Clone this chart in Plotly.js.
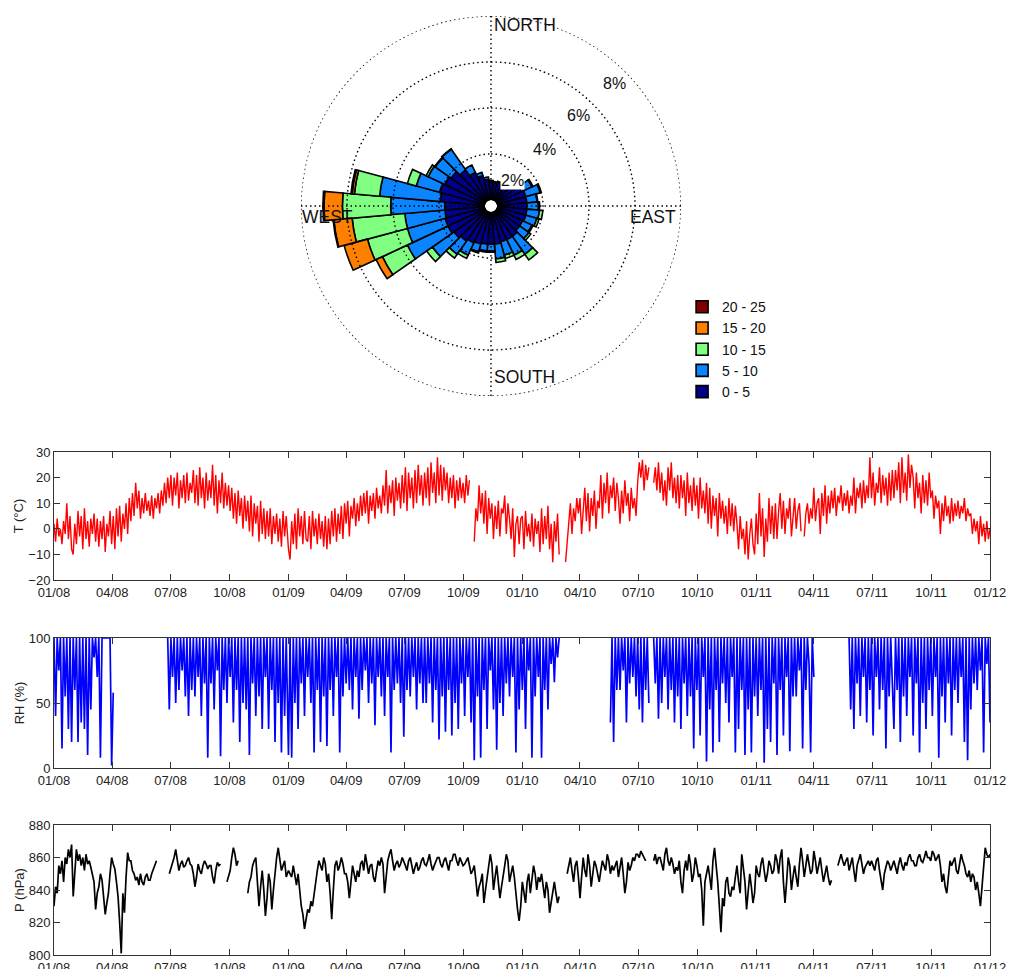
<!DOCTYPE html>
<html><head><meta charset="utf-8">
<script src="https://cdn.plot.ly/plotly-3.0.1.min.js"></script>
<style>html,body{margin:0;padding:0;background:#fff}#chart{width:1009px;height:969px}</style>
</head><body><div id="chart"></div>
<script>
// ---------- Wind rose data (% of time, per 10 degree sector, compass degrees) ----------
const DIRECTIONS = [0,10,20,30,40,50,60,70,80,90,100,110,120,130,140,150,160,170,180,190,200,210,220,230,240,250,260,270,280,290,300,310,320,330,340,350];
const SPEED_CLASSES = ['0 - 5','5 - 10','10 - 15','15 - 20','20 - 25'];
const SPEED_COLORS = ['#00008c','#0a84ff','#80ff80','#ff8000','#800000'];
const FREQ_0_5   = [0.8,0.75,0.8,0.9,1.0,1.1,1.2,1.3,1.3,1.3,1.3,1.3,1.25,1.25,1.35,1.35,1.35,1.4,1.4,1.4,1.45,1.5,1.6,1.7,1.8,1.8,1.75,1.75,1.95,2.05,1.95,1.85,1.65,1.35,1.1,0.9];
const FREQ_5_10  = [0.05,0.05,0.05,0.1,0.2,0.3,0.5,0.65,0.45,0.5,0.55,0.5,0.45,0.5,0.95,0.75,0.6,0.65,0.3,0.3,0.35,0.6,0.7,1.15,1.95,1.7,1.75,2.35,2.65,1.05,0.8,0.85,1.1,0.35,0.15,0.1];
const FREQ_10_15 = [0,0,0,0,0,0,0.05,0.05,0.03,0.05,0.15,0.1,0.05,0.1,0.3,0.2,0.15,0.15,0.05,0.05,0.05,0.15,0.2,0.3,1.2,1.8,2.3,2.1,1.1,0.4,0.1,0.03,0.02,0,0,0];
const FREQ_15_20 = [0,0,0,0,0,0,0,0,0,0,0,0,0,0,0,0,0,0,0,0,0,0,0,0,0.3,1.05,0.8,0.8,0.1,0,0,0,0,0,0,0];
const FREQ_20_25 = [0,0,0,0,0,0,0,0,0,0,0,0,0,0,0,0,0,0,0,0,0,0,0,0,0,0,0.03,0.05,0.05,0,0,0,0,0,0,0];
const RING_LEVELS = [2,4,6,8];
const RING_LABELS = ['2%','4%','6%','8%'];
const COMPASS_LABELS = ['NORTH','EAST','SOUTH','WEST'];

// ---------- Time series: one reading every 2.5 days from 1 January of each year ----------
const YEARS = [2008, 2009, 2010, 2011];
const STEP_DAYS = 2.5;
// Temperature (°C)
const T_2008 = [
 2,-5,4,-3,0,-6,3,-2,10,-4,5,-8,
 -10,2,-6,7,-3,5,-8,8,-4,3,-7,4,
 -2,6,-5,4,-7,3,-4,5,-9,2,-3,7,
 -6,5,-8,8,-3,9,-5,6,0,10,-2,12,
 3,14,5,18,8,15,4,12,6,14,7,11,
 5,13,4,12,8,14,6,15,9,18,10,20,
 12,21,9,20,13,22,8,19,12,21,10,22,11,18,
 14,23,10,21,9,24,12,20,8,22,11,19,
 12,25,9,21,6,19,10,22,8,18,9,17,
 7,16,4,14,2,15,5,12,0,13,3,11,
 -1,13,-3,10,2,9,-5,11,-2,8,-4,7,
 -3,8,-6,5,-2,6,-5,4,-7,7,-3,5];
const T_2009 = [
 -8,-12,3,-6,6,-8,8,-3,5,-6,7,-4,
 -5,5,-8,7,-3,4,-6,6,-4,3,-7,5,
 -8,4,-6,7,-3,8,-5,6,-2,9,-4,10,
 2,11,-3,9,4,12,1,10,3,13,5,14,
 6,15,2,13,7,14,4,16,8,13,6,17,
 9,23,6,17,10,19,5,20,11,18,8,21,
 10,24,7,22,12,20,8,23,10,25,13,21,9,22,
 12,24,9,26,14,22,10,28,13,25,11,24,
 15,22,10,20,12,21,8,19,11,20,12,18,
 10,21,13,19,null,null,-5,8,3,17,6,14,
 2,15,-2,12,4,10,-4,9,0,11,-3,8,
 6,13,-2,10,4,-4,8,-11,2,5,-6,4];
const T_2010 = [
 5,-8,7,-3,2,-5,6,-7,4,-2,3,-9,
 8,-6,5,-4,9,-8,2,-13,3,-5,6,-10,
 null,null,null,-13,-5,5,10,-2,8,3,12,6,
 12,-2,9,16,3,14,-1,12,5,15,0,11,
 8,21,4,18,10,22,6,17,12,20,7,18,
 12,2,15,6,19,9,14,3,16,8,12,5,
 18,26,20,27,15,25,19,24,null,null,18,24,15,26,
 14,22,11,19,9,24,15,26,12,20,10,21,
 8,21,12,19,5,22,10,17,7,20,9,17,
 4,20,8,15,6,18,2,16,0,13,5,12,
 -3,14,4,11,2,9,-2,12,1,10,-1,9,
 2,-8,5,-4,0,-10,3,-12,-2,4,-6,-10];
const T_2011 = [
 6,-6,14,-3,8,-11,4,-5,12,-2,9,-4,
 10,-4,7,14,0,11,-2,8,4,12,-3,6,
 12,0,7,10,-1,null,-3,6,10,2,8,4,
 16,3,10,12,-2,14,5,17,2,13,6,15,
 8,16,5,13,10,17,7,14,9,15,6,13,
 9,20,6,16,12,18,8,19,10,17,12,28,
 12,22,9,18,14,24,10,21,13,20,9,22,11,23,
 12,23,15,26,10,28,14,22,11,29,16,25,
 20,8,22,12,18,6,21,10,19,9,22,12,
 15,4,13,8,11,-2,10,3,13,5,9,2,
 12,3,10,5,11,4,9,6,12,3,8,5,
 6,-2,4,-1,3,-6,5,-3,2,-5,3,-4,
 0];
// Relative humidity (%)
const RH_2008 = [
 100,40,100,75,100,15,100,55,100,30,100,20,
 100,60,100,20,100,35,100,30,100,10,100,45,
 100,85,100,70,100,8,100,100,100,100,100,100,
 2,58,null,null,null,null,null,null,null,null,null,null,
 null,null,null,null,null,null,null,null,null,null,null,null,
 null,null,null,null,null,null,null,null,null,null,null,100,
 45,100,70,100,50,100,60,100,75,100,55,100,40,100,
 60,100,55,100,70,100,40,100,65,100,8,100,
 65,100,45,100,75,100,9,100,60,100,50,100,
 70,100,35,100,60,100,20,100,50,100,45,100,
 10,100,65,100,40,100,55,100,30,100,70,100,
 30,100,60,100,20,100,50,100,12,100,40,100];
const RH_2009 = [
 10,100,8,100,50,100,30,100,65,100,40,100,
 70,100,50,100,12,100,60,100,20,100,55,100,
 17,100,60,100,40,100,70,100,12,100,55,100,
 65,100,60,100,45,100,70,100,38,100,60,100,
 75,100,50,100,65,100,33,100,70,100,55,100,
 40,100,70,100,12,100,60,100,65,100,50,100,
 24,100,60,100,55,100,70,100,45,100,65,100,50,100,
 50,100,65,100,35,100,60,100,22,100,55,100,
 28,100,60,100,25,100,50,100,30,100,65,100,
 40,100,70,100,35,100,6,100,55,100,8,100,
 60,100,30,100,75,100,45,100,14,100,50,100,
 40,100,65,100,55,100,70,100,12,100,45,100];
const RH_2010 = [
 60,100,30,100,75,100,8,100,55,100,70,100,
 8,100,60,100,45,100,80,100,66,100,85,100,
 null,null,null,null,null,null,null,null,null,null,null,null,
 null,null,null,null,null,null,null,null,null,null,null,null,
 null,null,null,null,null,null,null,35,100,20,100,60,
 100,60,100,75,100,35,100,65,100,70,100,55,
 100,45,100,35,100,60,100,50,null,null,100,65,100,38,
 100,50,100,70,100,45,100,60,100,35,100,55,
 100,30,100,65,100,40,100,55,100,15,100,60,
 100,25,100,70,100,5,100,45,100,12,100,60,
 100,20,100,65,100,50,100,35,100,70,100,12,
 100,30,100,60,100,10,100,45,100,12,100,55];
const RH_2011 = [
 100,40,100,60,100,4,100,30,100,20,100,65,
 100,10,100,60,100,25,100,70,100,13,100,55,
 100,55,100,75,100,15,100,60,100,80,12,100,
 70,null,null,null,null,null,null,null,null,null,null,null,
 null,null,null,null,null,null,null,null,null,null,100,45,
 100,30,100,65,100,40,100,70,100,35,100,60,
 100,25,100,70,100,45,100,60,100,15,100,55,100,65,
 30,100,60,100,20,100,55,100,40,100,70,100,
 25,100,65,100,12,100,50,100,30,100,60,100,
 40,100,70,100,8,100,55,100,35,100,65,100,
 25,100,60,100,50,100,70,100,20,100,6,100,
 45,100,65,100,60,100,75,100,12,100,80,100,
 35];
// Pressure (hPa)
const P_2008 = [
 830,842,838,855,850,858,845,860,856,865,860,868,
 836,850,865,858,862,855,860,852,862,856,858,854,
 850,845,828,838,842,850,846,835,825,832,838,850,
 860,856,853,845,836,820,801,838,826,848,863,858,
 858,852,850,846,848,843,850,845,843,848,850,846,
 846,850,853,855,858,null,null,null,null,null,null,null,
 850,853,856,860,865,858,852,856,858,854,855,858,860,856,
 855,850,842,848,856,852,850,855,858,856,853,855,
 855,848,844,852,857,855,856,null,null,null,845,848,
 852,860,866,862,855,858,null,null,null,null,null,838,
 845,848,855,858,860,845,830,842,852,840,824,835,
 850,845,828,840,852,860,866,858,852,855,858,848];
const P_2009 = [
 852,850,848,855,850,843,850,838,830,825,816,822,
 828,826,833,830,838,845,852,858,855,852,860,856,
 845,850,838,822,840,855,858,852,855,860,856,850,
 850,845,835,848,855,850,845,852,848,856,858,852,
 862,856,850,855,856,848,845,852,858,855,860,856,
 838,848,858,862,865,858,852,856,858,854,856,860,
 858,855,852,858,860,855,850,854,857,852,854,858,860,856,
 855,858,862,856,852,855,858,860,860,856,854,858,
 860,856,852,858,858,862,862,858,855,860,858,855,
 856,858,860,855,850,852,855,846,836,842,845,850,
 832,840,848,855,862,856,840,848,855,845,835,842,
 850,855,862,858,845,850,855,848,835,828,821,830];
const P_2010 = [
 845,838,832,845,850,838,846,855,850,840,848,845,
 850,842,835,845,840,826,832,840,845,838,832,836,
 null,null,null,null,850,855,860,852,845,855,858,848,
 835,848,860,852,848,862,855,842,850,858,855,850,
 845,852,858,855,852,862,858,850,855,852,855,858,
 848,855,860,850,838,845,857,852,855,860,858,862,
 862,860,864,862,860,858,null,null,null,null,858,862,856,860,
 860,855,852,862,866,858,855,860,856,850,854,852,
 858,845,838,852,858,852,862,856,845,850,860,855,
 848,850,840,818,845,850,855,848,840,858,866,855,
 845,830,814,835,830,845,848,838,836,842,840,848,
 855,845,838,862,855,845,828,838,850,842,832,838];
const P_2011 = [
 855,850,848,856,860,852,845,850,858,855,850,852,
 862,858,850,860,865,845,832,845,860,855,840,848,
 855,848,842,856,866,858,848,855,862,856,850,852,
 864,858,850,855,860,852,845,850,855,848,843,846,
 null,null,null,855,858,862,858,855,858,860,852,856,
 860,852,845,855,858,862,856,850,854,856,858,855,
 858,855,852,858,860,852,846,840,850,855,858,856,852,855,
 858,854,850,856,860,855,852,857,855,860,862,858,
 858,855,855,860,862,858,857,860,864,860,860,858,
 864,862,858,860,862,855,845,850,842,838,850,858,
 855,858,860,852,850,856,862,858,855,850,848,852,
 845,850,848,840,845,838,830,842,855,866,862,860,
 862];

const T_BY_YEAR = [T_2008, T_2009, T_2010, T_2011];
const RH_BY_YEAR = [RH_2008, RH_2009, RH_2010, RH_2011];
const P_BY_YEAR = [P_2008, P_2009, P_2010, P_2011];

function pad(n) { return (n < 10 ? '0' : '') + n; }
function seriesXY(byYear) {
  const xs = [], ys = [];
  byYear.forEach((vals, k) => {
    const t0 = Date.UTC(YEARS[k], 0, 1);
    vals.forEach((v, i) => {
      const d = new Date(t0 + i * STEP_DAYS * 86400000);
      xs.push(d.getUTCFullYear() + '-' + pad(d.getUTCMonth() + 1) + '-' + pad(d.getUTCDate()) + ' ' + pad(d.getUTCHours()) + ':00');
      ys.push(v);
    });
  });
  return {x: xs, y: ys};
}

const FONT = 'Liberation Sans, Arial, sans-serif';
const traces = [];
const freqs = [FREQ_0_5, FREQ_5_10, FREQ_10_15, FREQ_15_20, FREQ_20_25];
freqs.forEach((f, k) => {
  traces.push({
    type: 'barpolar', subplot: 'polar', name: SPEED_CLASSES[k],
    r: f.map(v => v === 0 ? null : v), theta: DIRECTIONS, width: 10,
    marker: {color: SPEED_COLORS[k], line: {color: '#000', width: 1.6}},
    hoverinfo: 'skip'
  });
});
// dotted grid rings and spokes drawn on top of the bars
const ringTheta = [];
for (let a = 0; a <= 360; a += 2) ringTheta.push(a);
RING_LEVELS.forEach(lv => {
  traces.push({type: 'scatterpolar', subplot: 'polar', mode: 'lines', showlegend: false, hoverinfo: 'skip',
    r: ringTheta.map(() => lv), theta: ringTheta, line: {color: '#000', width: 1.4, dash: '1.5px,3px'}});
});
traces.push({type: 'scatterpolar', subplot: 'polar', mode: 'lines', showlegend: false, hoverinfo: 'skip',
  r: [8,0,null,8,0,null,8,0,null,8,0], theta: [0,0,null,90,90,null,180,180,null,270,270],
  line: {color: '#000', width: 1.4, dash: '1.5px,3px'}});

const sT = seriesXY(T_BY_YEAR), sRH = seriesXY(RH_BY_YEAR), sP = seriesXY(P_BY_YEAR);
traces.push({type: 'scatter', mode: 'lines', x: sT.x, y: sT.y, xaxis: 'x', yaxis: 'y', showlegend: false,
  line: {color: '#ff0000', width: 1.4}, connectgaps: false});
traces.push({type: 'scatter', mode: 'lines', x: sRH.x, y: sRH.y, xaxis: 'x2', yaxis: 'y2', showlegend: false,
  line: {color: '#0000ff', width: 1.7}, connectgaps: false});
traces.push({type: 'scatter', mode: 'lines', x: sP.x, y: sP.y, xaxis: 'x3', yaxis: 'y3', showlegend: false,
  line: {color: '#000000', width: 1.7}, connectgaps: false});

const XDOM = [0.0535, 0.9812];
function xAxis(anchor) {
  return {type: 'date', range: ['2008-01-01', '2012-01-01'], tickformat: '%m/%y', dtick: 'M3', tick0: '2008-01-01',
    ticks: 'inside', ticklen: 6, tickcolor: '#333', showline: true, linecolor: '#333', linewidth: 1, mirror: 'ticks',
    showgrid: false, zeroline: false, tickfont: {family: FONT, size: 13, color: '#222'}, domain: XDOM, anchor: anchor, fixedrange: true};
}
function yAxis(anchor, range, dtick, dom, title) {
  return {range: range, dtick: dtick, domain: dom, anchor: anchor, ticks: 'inside', ticklen: 6, tickcolor: '#333',
    showline: true, linecolor: '#333', linewidth: 1, mirror: 'ticks', showgrid: false, zeroline: false,
    tickfont: {family: FONT, size: 13, color: '#222'}, title: {text: title, font: {family: FONT, size: 13, color: '#222'}, standoff: 1}, fixedrange: true};
}

const annotations = [];
const compassPos = [[0.4876, 0.9742, 'left'], [0.672, 0.776, 'right'], [0.4876, 0.6109, 'left'], [0.2973, 0.776, 'left']];
COMPASS_LABELS.forEach((t, i) => annotations.push({text: t, xref: 'paper', yref: 'paper', x: compassPos[i][0], y: compassPos[i][1],
  xanchor: compassPos[i][2], yanchor: 'middle', showarrow: false, font: {family: FONT, size: 17.5, color: '#111'}}));
const ringPos = [[0.5084, 0.8142], [0.5401, 0.8462], [0.5738, 0.8803], [0.6095, 0.9143]];
RING_LABELS.forEach((t, i) => annotations.push({text: t, xref: 'paper', yref: 'paper', x: ringPos[i][0], y: ringPos[i][1],
  xanchor: 'center', yanchor: 'middle', showarrow: false, bgcolor: '#fff', borderpad: 0, font: {family: FONT, size: 16, color: '#111'}}));

const layout = {
  width: 1009, height: 969, margin: {l: 0, r: 0, t: 0, b: 0}, paper_bgcolor: '#fff', plot_bgcolor: '#fff',
  font: {family: FONT, color: '#111'},
  polar: {domain: {x: [0.29832, 0.67492], y: [0.59133, 0.98349]}, hole: 0.032, bgcolor: 'rgba(0,0,0,0)', barmode: 'stack',
    radialaxis: {range: [0, 8], visible: false}, angularaxis: {rotation: 90, direction: 'clockwise', visible: false}},
  xaxis: xAxis('y'), xaxis2: xAxis('y2'), xaxis3: xAxis('y3'),
  yaxis: yAxis('x', [-20, 30], 10, [0.4014, 0.5335], 'T (°C)'),
  yaxis2: yAxis('x2', [0, 100], 50, [0.2074, 0.3416], 'RH (%)'),
  yaxis3: yAxis('x3', [800, 880], 20, [0.01445, 0.1486], 'P (hPa)'),
  showlegend: true,
  legend: {x: 0.676, y: 0.6995, xanchor: 'left', yanchor: 'top', traceorder: 'reversed', bgcolor: 'rgba(0,0,0,0)',
    font: {family: FONT, size: 14, color: '#111'}, itemclick: false, itemdoubleclick: false},
  annotations: annotations
};
Plotly.newPlot('chart', traces, layout, {displayModeBar: false, staticPlot: true});
</script></body></html>
